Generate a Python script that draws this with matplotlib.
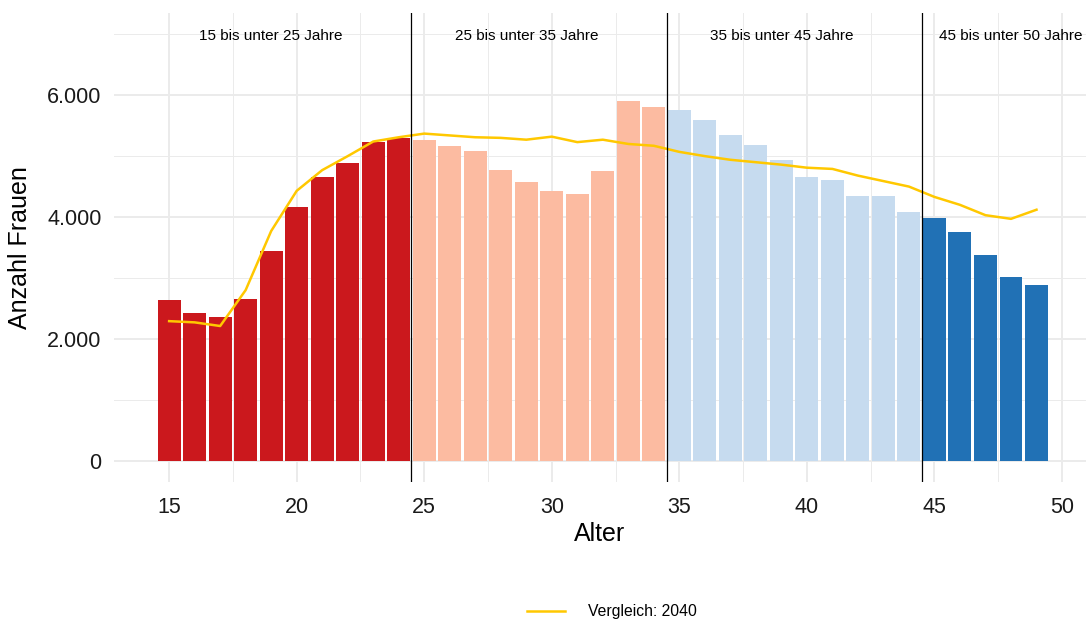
import matplotlib
matplotlib.use("Agg")
import matplotlib.pyplot as plt
from matplotlib.ticker import FuncFormatter, MultipleLocator

plt.rcParams["font.family"] = ["Liberation Sans", "DejaVu Sans"]

ages = list(range(15, 50))
frauen = [2630, 2420, 2350, 2650, 3450, 4160, 4650, 4890, 5240, 5300,
          5270, 5170, 5090, 4780, 4580, 4420, 4370, 4750, 5910, 5810,
          5760, 5600, 5350, 5190, 4930, 4660, 4610, 4350, 4340, 4090,
          3990, 3750, 3370, 3020, 2880]
vergleich_2040 = [2290, 2270, 2210, 2800, 3770, 4430, 4770, 5000, 5240, 5310,
                  5370, 5340, 5310, 5300, 5270, 5320, 5230, 5270, 5200, 5170,
                  5070, 5000, 4940, 4900, 4860, 4810, 4790, 4680, 4590, 4500,
                  4330, 4200, 4030, 3970, 4120]

group_bounds = [(15, 25), (25, 35), (35, 45), (45, 50)]
group_colors = ["#CB181D", "#FCBBA1", "#C6DBEF", "#2171B5"]
group_labels = ["15 bis unter 25 Jahre", "25 bis unter 35 Jahre",
                "35 bis unter 45 Jahre", "45 bis unter 50 Jahre"]
label_x = [19, 29, 39, 48]
separators = [24.5, 34.5, 44.5]

fig = plt.figure(figsize=(10.86, 6.21), dpi=100)
ax = fig.add_axes([0.105, 0.224, 0.895, 0.755])

bar_colors = []
for a in ages:
    for (lo, hi), c in zip(group_bounds, group_colors):
        if lo <= a < hi:
            bar_colors.append(c)
ax.bar(ages, frauen, width=0.9, color=bar_colors, zorder=2)
ax.plot(ages, vergleich_2040, color="#FFC800", lw=1.8, zorder=3,
        label="Vergleich: 2040")

for s in separators:
    ax.axvline(s, color="black", lw=0.9, zorder=4)
for x, t in zip(label_x, group_labels):
    ax.text(x, 6980, t, ha="center", va="center", fontsize=11, color="black")

ax.set_xlim(12.84, 50.94)
ax.set_ylim(-350, 7350)
ax.xaxis.set_major_locator(MultipleLocator(5))
ax.xaxis.set_minor_locator(MultipleLocator(2.5))
ax.yaxis.set_major_locator(MultipleLocator(2000))
ax.yaxis.set_minor_locator(MultipleLocator(1000))
ax.yaxis.set_major_formatter(FuncFormatter(lambda v, p: f"{int(v):,}".replace(",", ".")))

ax.grid(which="major", color="#EBEBEB", lw=1.4, zorder=0)
ax.grid(which="minor", color="#EBEBEB", lw=0.7, zorder=0)
ax.set_axisbelow(True)
for sp in ax.spines.values():
    sp.set_visible(False)
ax.tick_params(which="both", length=0, labelsize=15.5, colors="#1A1A1A")
ax.tick_params(axis="x", pad=11)
ax.tick_params(axis="y", pad=9)

ax.set_xlabel("Alter", fontsize=18, labelpad=3)
ax.set_ylabel("Anzahl Frauen", fontsize=18)
ax.yaxis.set_label_coords(-0.084, 0.5)

# legend sits centred under the panel, slightly right of the figure centre
fig.legend(loc="lower center", bbox_to_anchor=(0.5635, -0.02), frameon=False,
           fontsize=11.3, handlelength=2.4, handletextpad=1.5)

fig.savefig("out.png", dpi=100)
